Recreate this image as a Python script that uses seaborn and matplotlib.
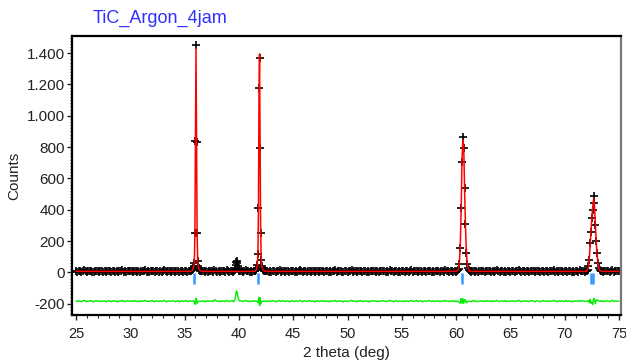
import numpy as np
import pandas as pd
import matplotlib
matplotlib.use("Agg")
import matplotlib.pyplot as plt
from matplotlib.ticker import MultipleLocator, FuncFormatter
import seaborn as sns

# ---------------- data ----------------
title = "TiC_Argon_4jam"
x_label = "2 theta (deg)"
y_label = "Counts"

# background observed counts on a 0.125 deg grid, 25.000 ... 75.000
bg_start = 25.0
bg_step = 0.125
bg_obs = [
    8, 5, 10, 6, 3, 9, 12, 7, 4, 8, 6, 11, 5, 2, 9, 7, 10, 4, 6, 8,
    5, 9, 3, 7, 11, 6, 4, 8, 10, 5, 7, 2, 9, 6, 12, 4, 8, 5, 10, 7,
    6, 9, 4, 11, 7, 5, 8, 3, 10, 6, 9, 12, 5, 7, 4, 8, 11, 6, 3, 9,
    7, 5, 10, 4, 8, 12, 6, 3, 9, 7, 5, 11, 8, 4, 6, 10, 2, 7, 9, 5,
    8, 11, 4, 6, 9, 3, 7, 10, 5, 8, 12, 6, 4, 9, 7, 2, 10, 5, 8, 6,
    9, 4, 16, 11, 5, 8, 3, 10, 6, 9, 4, 12, 7, 5, 8, 10, 3, 6, 11, 7,
    5, 8, 10, 4, 7, 12, 6, 9, 3, 8, 5, 11, 7, 4, 10, 6, 8, 2, 9, 7,
    6, 10, 4, 8, 5, 11, 7, 3, 9, 6, 12, 5, 8, 10, 4, 7, 9, 3, 6, 11,
    7, 4, 9, 5, 8, 12, 6, 3, 10, 7, 5, 9, 11, 4, 8, 6, 2, 10, 7, 5,
    9, 6, 11, 4, 8, 7, 3, 10, 5, 9, 6, 12, 4, 8, 7, 10, 5, 3, 9, 6,
    4, 7, 9, 12, 5, 8, 6, 3, 10, 7, 11, 4, 6, 9, 5, 8, 2, 10, 6, 8,
    10, 5, 7, 3, 9, 6, 11, 8, 4, 7, 5, 12, 9, 6, 3, 8, 10, 4, 7, 5,
    6, 8, 3, 10, 7, 4, 9, 12, 5, 6, 8, 11, 4, 7, 10, 3, 6, 9, 5, 8,
    11, 7, 5, 9, 4, 8, 6, 10, 3, 7, 9, 5, 12, 6, 8, 4, 7, 11, 5, 9,
    3, 9, 6, 8, 12, 5, 7, 4, 10, 8, 6, 3, 9, 11, 5, 7, 4, 8, 10, 6,
    8, 4, 11, 6, 7, 9, 3, 10, 5, 8, 12, 7, 4, 6, 9, 5, 11, 3, 8, 7,
    5, 10, 7, 4, 9, 6, 12, 8, 3, 7, 10, 5, 8, 6, 4, 11, 9, 6, 3, 8,
    9, 6, 3, 8, 11, 5, 7, 10, 4, 9, 6, 8, 12, 5, 7, 3, 10, 6, 9, 4,
    7, 11, 5, 9, 6, 3, 8, 4, 10, 7, 5, 12, 6, 9, 8, 4, 7, 11, 5, 6,
    4, 8, 10, 6, 9, 7, 5, 11, 3, 8, 6, 10, 7, 4, 9, 12, 5, 8, 6, 7,
    8,
]
bg_calc_level = 6
diff_offset = -185

# peak 1 (111)
p1_x = [35.60, 35.65, 35.70, 35.75, 35.80, 35.85, 35.90, 35.95, 36.00, 36.05,
        36.10, 36.15, 36.20, 36.25, 36.30, 36.35, 36.40, 36.45, 36.50]
p1_obs = [9, 12, 15, 20, 28, 42, 62, 250, 840, 1450,
          830, 250, 75, 38, 25, 18, 14, 11, 9]
p1_calc = [9, 11, 14, 18, 25, 38, 72, 265, 860, 1430,
           815, 262, 80, 40, 26, 18, 14, 11, 9]

# small unfitted peak near 39.8
p0_x = [39.55, 39.60, 39.65, 39.70, 39.75, 39.80, 39.85, 39.90, 39.95, 40.00, 40.05]
p0_obs = [10, 14, 22, 45, 65, 72, 58, 38, 22, 14, 9]
p0_calc = [6, 6, 6, 6, 6, 6, 6, 6, 6, 6, 6]

# peak 2 (200)
p2_x = [41.45, 41.50, 41.55, 41.60, 41.65, 41.70, 41.75, 41.80, 41.85, 41.90,
        41.95, 42.00, 42.05, 42.10, 42.15, 42.20, 42.25, 42.30, 42.35, 42.40]
p2_obs = [9, 11, 14, 19, 28, 47, 117, 409, 1176, 1367,
          792, 249, 79, 42, 28, 20, 15, 12, 10, 8]
p2_calc = [8, 10, 13, 18, 27, 52, 125, 400, 1150, 1395,
           770, 265, 85, 44, 28, 20, 15, 12, 9, 8]

# peak 3 (220)
p3_x = [60.06, 60.14, 60.22, 60.30, 60.38, 60.46, 60.54, 60.62, 60.70, 60.78,
        60.86, 60.94, 61.02, 61.10, 61.18, 61.26]
p3_obs = [9, 13, 22, 53, 153, 409, 703, 863, 792, 537,
          307, 125, 53, 25, 14, 9]
p3_calc = [8, 12, 24, 62, 165, 390, 715, 845, 805, 525,
           300, 135, 58, 27, 14, 9]

# peak 4 (311)
p4_x = [72.02, 72.10, 72.18, 72.26, 72.34, 72.42, 72.50, 72.58, 72.66, 72.74,
        72.82, 72.90, 72.98, 73.06, 73.14, 73.22, 73.30]
p4_obs = [10, 18, 40, 79, 189, 260, 345, 400, 487, 440,
          300, 200, 125, 60, 28, 14, 9]
p4_calc = [9, 16, 35, 88, 175, 272, 352, 420, 470, 425,
           315, 192, 115, 55, 26, 14, 9]

# reflection (Bragg) positions
bragg_pos = [35.90, 41.73, 60.51, 72.42, 72.57]
bragg_top = -5
bragg_bottom = -72

# ---------------- assemble ----------------
peaks = [(p1_x, p1_obs, p1_calc), (p0_x, p0_obs, p0_calc),
         (p2_x, p2_obs, p2_calc), (p3_x, p3_obs, p3_calc),
         (p4_x, p4_obs, p4_calc)]

bg_x = bg_start + bg_step * np.arange(len(bg_obs))
bg_obs_a = np.array(bg_obs, dtype=float)
keep = np.ones(len(bg_x), dtype=bool)
for px, _, _ in peaks:
    keep &= ~((bg_x >= min(px) - 1e-9) & (bg_x <= max(px) + 1e-9))

xs = [bg_x[keep]]
obs = [bg_obs_a[keep]]
calc = [np.full(keep.sum(), bg_calc_level, dtype=float)]
for px, po, pc in peaks:
    xs.append(np.array(px, float))
    obs.append(np.array(po, float))
    calc.append(np.array(pc, float))

df = pd.DataFrame({"tth": np.concatenate(xs),
                   "obs": np.concatenate(obs),
                   "calc": np.concatenate(calc)}).sort_values("tth").reset_index(drop=True)
df["diff"] = df["obs"] - df["calc"] + diff_offset

# ---------------- plot ----------------
sns.set_style("ticks")
plt.rcParams["font.family"] = ["Liberation Sans", "DejaVu Sans"]

fig = plt.figure(figsize=(6.26, 3.63), dpi=100)
ax = fig.add_axes([0.115, 0.132, 0.877, 0.769])

sns.scatterplot(data=df, x="tth", y="obs", marker="+", s=26, color="black",
                linewidth=1.2, ax=ax, zorder=2, legend=False)
sns.lineplot(data=df, x="tth", y="calc", color="#ff0000", linewidth=1.1,
             estimator=None, sort=True, ax=ax, zorder=3)
sns.lineplot(data=df, x="tth", y="diff", color="#00ee00", linewidth=1.0,
             estimator=None, sort=True, ax=ax, zorder=3)
ax.vlines(bragg_pos, bragg_bottom, bragg_top, colors="#3399ff", linewidth=1.8, zorder=4)

ax.set_xlim(24.63, 75.18)
ax.set_ylim(-273, 1510)
ax.xaxis.set_major_locator(MultipleLocator(5))
ax.xaxis.set_minor_locator(MultipleLocator(1))
ax.yaxis.set_major_locator(MultipleLocator(200))
ax.yaxis.set_minor_locator(MultipleLocator(20))
ax.yaxis.set_major_formatter(FuncFormatter(lambda v, p: f"{int(round(v)):,}".replace(",", ".")))

ax.tick_params(axis="both", which="major", direction="out", length=3.5, width=1.0,
               colors="#222222", labelcolor="#222222")
ax.tick_params(axis="both", which="minor", direction="out", length=1.8, width=0.8,
               colors="#222222")
ax.tick_params(axis="x", which="major", pad=5, labelsize=10.5)
ax.tick_params(axis="y", which="major", pad=1.5, labelsize=11)

for side in ["left", "bottom", "top"]:
    ax.spines[side].set_color("black")
    ax.spines[side].set_linewidth(1.6)
ax.spines["right"].set_color("#777777")
ax.spines["right"].set_linewidth(1.6)

ax.set_xlabel(x_label, fontsize=11, color="#222222", labelpad=4)
ax.set_ylabel(y_label, fontsize=11, color="#222222", labelpad=4)

fig.text(93 / 626, 1 - 18 / 363, title, color="#3030ff", fontsize=13,
         ha="left", va="center")

fig.savefig("out.png", dpi=100)
